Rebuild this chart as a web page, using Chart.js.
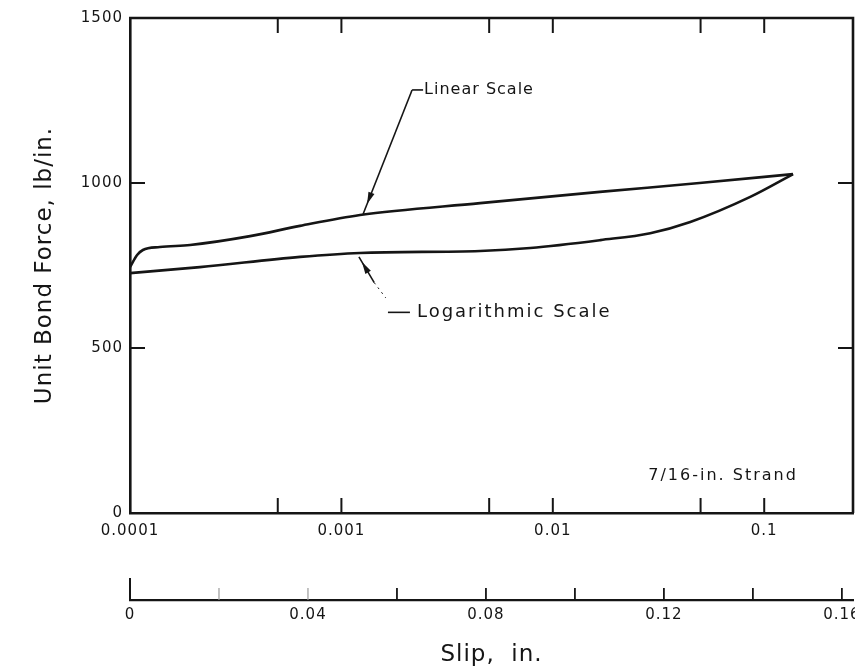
<!DOCTYPE html>
<html>
<head>
<meta charset="utf-8">
<script src="https://cdn.jsdelivr.net/npm/chart.js@4.4.1/dist/chart.umd.min.js"></script>
<style>
  html, body { margin: 0; padding: 0; background: #fff; }
  #wrap { width: 855px; height: 670px; }
</style>
</head>
<body>
<div id="wrap"><canvas id="c" width="855" height="670"></canvas></div>
<script>
// Unit bond force against slip for a 7/16-in. strand, one trace per slip scale
const linSlip  = [0, 0.0016, 0.0029, 0.0067, 0.0135, 0.027, 0.0382, 0.0517, 0.0787, 0.1056, 0.128, 0.149];
const linForce = [745, 782, 797, 806, 812, 839, 870, 903, 939, 973, 1000, 1027];

const logSlip  = [0.0001, 0.000214, 0.000638, 0.00122, 0.00453, 0.00782, 0.0168, 0.0289, 0.0447, 0.0859, 0.137];
const logForce = [727, 745, 776, 788, 794, 803, 827, 848, 882, 958, 1027];

const forceTicks    = [0, 500, 1000, 1500];
const logTickValues = [0.0001, 0.001, 0.01, 0.1];
const logTickLabels = ['0.0001', '0.001', '0.01', '0.1'];
const logMarkValues = [0.0005, 0.001, 0.005, 0.01, 0.05, 0.1];
const linTickValues = [0, 0.04, 0.08, 0.12, 0.16];
const linTickLabels = ['0', '0.04', '0.08', '0.12', '0.16'];
const linMarkValues = [0.02, 0.04, 0.06, 0.08, 0.10, 0.12, 0.14, 0.16];

const INK = '#151515';
const FONT = 'DejaVu Sans';

function seg(ctx, x1, y1, x2, y2) {
  ctx.beginPath(); ctx.moveTo(x1, y1); ctx.lineTo(x2, y2); ctx.stroke();
}
function arrowHead(ctx, tipX, tipY, fromX, fromY, len, half) {
  const ang = Math.atan2(tipY - fromY, tipX - fromX);
  const c = Math.cos(ang), s = Math.sin(ang);
  ctx.beginPath();
  ctx.moveTo(tipX, tipY);
  ctx.lineTo(tipX - len * c + half * s, tipY - len * s - half * c);
  ctx.lineTo(tipX - len * c - half * s, tipY - len * s + half * c);
  ctx.closePath();
  ctx.fill();
}

// A little letter spacing on every label, like drafted lettering
const spacingPlugin = {
  id: 'spacing',
  beforeUpdate(chart) { chart.ctx.letterSpacing = '1px'; },
  beforeDraw(chart) { chart.ctx.letterSpacing = '1px'; }
};

// Frame, inward tick marks, the second slip axis ticks and the callouts
const framePlugin = {
  id: 'frame',
  afterDraw(chart) {
    const { ctx, chartArea: a, scales } = chart;
    const y = scales.y, xl = scales.xlog, xn = scales.xlin;
    ctx.save();
    ctx.strokeStyle = INK;
    ctx.fillStyle = INK;

    // top and right border
    ctx.lineWidth = 2.6;
    ctx.beginPath();
    ctx.moveTo(a.left - 1, a.top);
    ctx.lineTo(a.right, a.top);
    ctx.lineTo(a.right, a.bottom);
    ctx.stroke();

    // force ticks pointing inward on both sides
    ctx.lineWidth = 2;
    forceTicks.slice(1, -1).forEach(v => {
      const py = y.getPixelForValue(v);
      seg(ctx, a.left, py, a.left + 15, py);
      seg(ctx, a.right, py, a.right - 15, py);
    });

    // log slip ticks along bottom and top
    logMarkValues.forEach(v => {
      const px = xl.getPixelForValue(v);
      seg(ctx, px, a.bottom, px, a.bottom - 15);
      seg(ctx, px, a.top, px, a.top + 15);
    });

    // linear slip axis ticks
    const base = xn.top;
    ctx.lineWidth = 2;
    seg(ctx, xn.getPixelForValue(0), base, xn.getPixelForValue(0), base - 22);
    linMarkValues.forEach((v, i) => {
      const px = xn.getPixelForValue(v);
      ctx.strokeStyle = i < 2 ? '#9a9a9a' : INK;
      ctx.lineWidth = i < 2 ? 1.2 : 1.8;
      seg(ctx, px, base, px, base - 12);
    });
    ctx.strokeStyle = INK;

    // callouts
    const P = (sx, fy, s) => [s.getPixelForValue(sx), y.getPixelForValue(fy)];
    ctx.textBaseline = 'middle';
    ctx.textAlign = 'left';

    // Linear Scale
    const [lx, ly] = P(0.0634, 1282, xn);
    const [ltx, lty] = P(0.0524, 906, xn);
    ctx.lineWidth = 1.6;
    seg(ctx, lx, ly, ltx, lty);
    seg(ctx, lx, ly, lx + 11, ly);
    arrowHead(ctx, ltx + (lx - ltx) * 0.08, lty + (ly - lty) * 0.08, lx, ly, 12, 3.2);
    ctx.font = '16px "' + FONT + '"';
    ctx.letterSpacing = '1px';
    ctx.fillText('Linear Scale', lx + 12, ly);

    // Logarithmic Scale
    const [gx, gy] = P(0.00121, 776, xl);
    const [gmx, gmy] = P(0.00143, 698, xl);
    const [gex, gey] = P(0.00162, 652, xl);
    seg(ctx, gx, gy, gmx, gmy);
    arrowHead(ctx, gx + (gmx - gx) * 0.2, gy + (gmy - gy) * 0.2, gmx, gmy, 12, 3.2);
    ctx.setLineDash([2, 4]);
    ctx.lineWidth = 1;
    seg(ctx, gmx, gmy, gex, gey);
    ctx.setLineDash([]);
    const [dx, dy] = P(0.00166, 608, xl);
    ctx.lineWidth = 1.6;
    seg(ctx, dx, dy, dx + 22, dy);
    ctx.font = '18px "' + FONT + '"';
    ctx.letterSpacing = '2px';
    ctx.fillText('Logarithmic Scale', dx + 29, dy);

    // strand size
    const [sx, sy] = P(0.1333, 112, xn);
    ctx.font = '16px "' + FONT + '"';
    ctx.letterSpacing = '2px';
    ctx.textAlign = 'center';
    ctx.fillText('7/16-in. Strand', sx, sy);
    ctx.restore();
  }
};

const toPts = (xs, ys) => xs.map((x, i) => ({ x, y: ys[i] }));
const noSidePad = s => { s.paddingLeft = 0; s.paddingRight = 0; };

new Chart(document.getElementById('c'), {
  type: 'scatter',
  data: {
    datasets: [
      {
        label: 'Linear Scale',
        data: toPts(linSlip, linForce),
        xAxisID: 'xlin',
        showLine: true,
        borderColor: INK,
        borderWidth: 2.6,
        pointRadius: 0,
        cubicInterpolationMode: 'monotone'
      },
      {
        label: 'Logarithmic Scale',
        data: toPts(logSlip, logForce),
        xAxisID: 'xlog',
        showLine: true,
        borderColor: INK,
        borderWidth: 2.6,
        pointRadius: 0,
        cubicInterpolationMode: 'monotone'
      }
    ]
  },
  options: {
    responsive: false,
    animation: false,
    devicePixelRatio: 1,
    layout: { padding: { top: 18, right: 2, left: 0, bottom: 0 } },
    plugins: { legend: { display: false }, tooltip: { enabled: false } },
    scales: {
      y: {
        type: 'linear',
        position: 'left',
        min: 0, max: 1500,
        afterBuildTicks: s => { s.ticks = forceTicks.map(v => ({ value: v })); },
        afterFit: s => { s.width = 130; },
        ticks: {
          color: INK, padding: 7, font: { family: FONT, size: 15 },
          callback: v => String(v)
        },
        grid: { drawOnChartArea: false, drawTicks: false },
        border: { display: true, color: INK, width: 2.6 },
        title: {
          display: true,
          text: 'Unit Bond Force, lb/in.',
          color: INK,
          font: { family: FONT, size: 23 },
          padding: { top: 31, bottom: 0 }
        }
      },
      xlog: {
        type: 'logarithmic',
        position: 'bottom',
        min: 0.0001, max: 0.263,
        afterBuildTicks: s => { s.ticks = logTickValues.map(v => ({ value: v })); },
        afterFit: s => { s.height = 87; noSidePad(s); },
        ticks: {
          color: INK, padding: 9, autoSkip: false, maxRotation: 0,
          font: { family: FONT, size: 15 },
          callback: (v, i) => logTickLabels[i]
        },
        grid: { drawOnChartArea: false, drawTicks: false },
        border: { display: true, color: INK, width: 2.6 }
      },
      xlin: {
        type: 'linear',
        position: 'bottom',
        min: 0, max: 0.1625,
        afterBuildTicks: s => { s.ticks = linTickValues.map(v => ({ value: v })); },
        afterFit: s => { s.height = 70; noSidePad(s); },
        ticks: {
          color: INK, padding: 6, autoSkip: false, maxRotation: 0,
          font: { family: FONT, size: 15 },
          callback: (v, i) => linTickLabels[i]
        },
        grid: { drawOnChartArea: false, drawTicks: false },
        border: { display: true, color: INK, width: 2.2 },
        title: {
          display: true,
          text: 'Slip,  in.',
          color: INK,
          font: { family: FONT, size: 23 },
          padding: { top: 0, bottom: 1 }
        }
      }
    }
  },
  plugins: [spacingPlugin, framePlugin]
});
</script>
</body>
</html>
